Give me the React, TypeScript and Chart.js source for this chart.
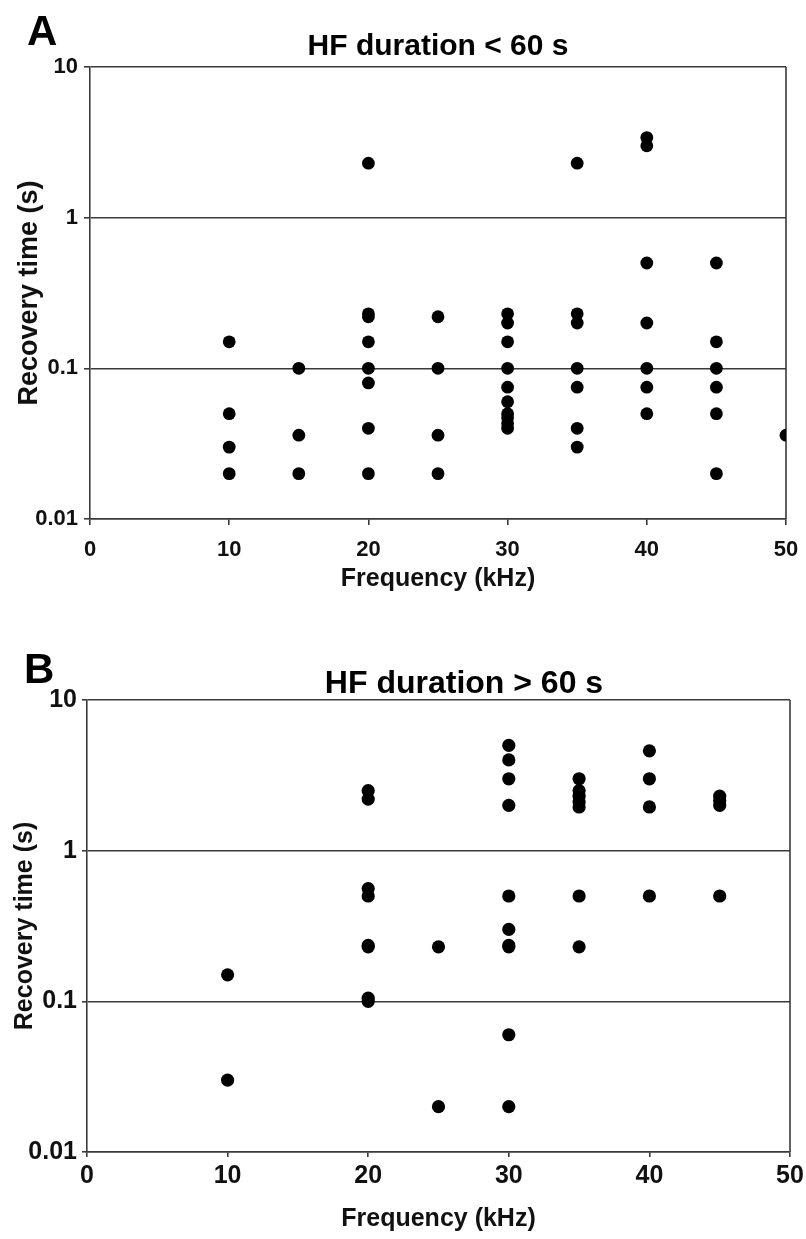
import React, { useEffect, useRef } from "react";
import { Chart, registerables } from "chart.js";

Chart.register(...registerables);

// ---------- data ----------
const xTickValues = [0, 10, 20, 30, 40, 50];
const yTickValues = [0.01, 0.1, 1, 10];

// Panel A: HF duration < 60 s
const shortFreq = [
  10, 10, 10, 10,
  15, 15, 15,
  20, 20, 20, 20, 20, 20, 20, 20,
  25, 25, 25, 25,
  30, 30, 30, 30, 30, 30, 30, 30, 30, 30,
  35, 35, 35, 35, 35, 35, 35,
  40, 40, 40, 40, 40, 40, 40,
  45, 45, 45, 45, 45, 45,
  50,
];
const shortTime = [
  0.15, 0.05, 0.03, 0.02,
  0.1, 0.036, 0.02,
  2.3, 0.23, 0.22, 0.15, 0.1, 0.08, 0.04, 0.02,
  0.22, 0.1, 0.036, 0.02,
  0.23, 0.2, 0.15, 0.1, 0.075, 0.06, 0.05, 0.047, 0.043, 0.04,
  2.3, 0.23, 0.2, 0.1, 0.075, 0.04, 0.03,
  3.4, 3.0, 0.5, 0.2, 0.1, 0.075, 0.05,
  0.5, 0.15, 0.1, 0.075, 0.05, 0.02,
  0.036,
];

// Panel B: HF duration > 60 s
const longFreq = [
  10, 10,
  20, 20, 20, 20, 20, 20, 20, 20,
  25, 25,
  30, 30, 30, 30, 30, 30, 30, 30, 30, 30,
  35, 35, 35, 35, 35, 35, 35,
  40, 40, 40, 40,
  45, 45, 45, 45,
];
const longTime = [
  0.15, 0.03,
  2.5, 2.2, 0.56, 0.5, 0.235, 0.23, 0.105, 0.1,
  0.23, 0.02,
  5, 4, 3, 2, 0.5, 0.3, 0.235, 0.23, 0.06, 0.02,
  3, 2.5, 2.3, 2.1, 1.95, 0.5, 0.23,
  4.6, 3, 1.95, 0.5,
  2.3, 2.15, 2.0, 0.5,
];

const xAxisTitle = "Frequency (kHz)";
const yAxisTitle = "Recovery time (s)";
const titleA = "HF duration < 60 s";
const titleB = "HF duration > 60 s";

// ---------- styling / layout ----------
const W = 806;
const LINE = "#3a3a3a";
const SANS = '"Liberation Sans", Arial, Helvetica, sans-serif';
const NARROW = '"Liberation Sans Narrow", "Arial Narrow", "Liberation Sans", sans-serif';

type PanelCfg = {
  freq: number[];
  time: number[];
  letter: string;
  title: string;
  height: number;
  area: { left: number; right: number; top: number; bottom: number };
  letterX: number;
  letterBase: number;
  titleX: number;
  titleBase: number;
  titleSize: number;
  tickSize: number;
  xTickPad: number;
  yTickPad: number;
  tickLen: number;
  xTitleSize: number;
  xTitlePad: number;
  yTitleSize: number;
  yTitlePad: number;
  dotR: number;
};

const panelA: PanelCfg = {
  freq: shortFreq,
  time: shortTime,
  letter: "A",
  title: titleA,
  height: 610,
  area: { left: 90, right: 786, top: 67, bottom: 519 },
  letterX: 27,
  letterBase: 45,
  titleX: 438,
  titleBase: 55,
  titleSize: 30,
  tickSize: 22,
  xTickPad: 12,
  yTickPad: 6,
  tickLen: 6,
  xTitleSize: 25,
  xTitlePad: 16,
  yTitleSize: 27,
  yTitlePad: 13,
  dotR: 6.4,
};

const panelB: PanelCfg = {
  freq: longFreq,
  time: longTime,
  letter: "B",
  title: titleB,
  height: 629,
  area: { left: 87, right: 790, top: 90, bottom: 542 },
  letterX: 24,
  letterBase: 73,
  titleX: 464,
  titleBase: 83,
  titleSize: 32,
  tickSize: 25,
  xTickPad: 4,
  yTickPad: 5,
  tickLen: 5,
  xTitleSize: 25,
  xTitlePad: 5,
  yTitleSize: 25,
  yTitlePad: 10,
  dotR: 6.6,
};

function makeTextPlugin(c: PanelCfg) {
  return {
    id: "panelDecor" + c.letter,
    beforeDatasetsDraw(chart: any) {
      const { ctx, chartArea } = chart;
      ctx.save();
      ctx.strokeStyle = LINE;
      ctx.lineWidth = 1.6;
      ctx.beginPath();
      ctx.moveTo(chartArea.right, chartArea.top);
      ctx.lineTo(chartArea.right, chartArea.bottom);
      ctx.stroke();
      ctx.restore();
    },
    afterDraw(chart: any) {
      const ctx = chart.ctx;
      ctx.save();
      ctx.fillStyle = "#000";
      ctx.textBaseline = "alphabetic";
      ctx.textAlign = "left";
      ctx.font = `bold 42px ${SANS}`;
      ctx.fillText(c.letter, c.letterX, c.letterBase);
      ctx.textAlign = "center";
      ctx.font = `bold ${c.titleSize}px ${SANS}`;
      ctx.fillText(c.title, c.titleX, c.titleBase);
      ctx.restore();
    },
  };
}

function Panel({ cfg }: { cfg: PanelCfg }) {
  const ref = useRef<HTMLCanvasElement>(null);
  useEffect(() => {
    const c = cfg;
    const chart = new Chart(ref.current as HTMLCanvasElement, {
      type: "scatter",
      data: {
        datasets: [
          {
            data: c.freq.map((x, i) => ({ x, y: c.time[i] })),
            backgroundColor: "#000",
            borderColor: "#000",
            borderWidth: 0,
            pointRadius: c.dotR,
            pointHoverRadius: c.dotR,
            pointStyle: "circle",
          },
        ],
      },
      options: {
        animation: false,
        responsive: false,
        maintainAspectRatio: false,
        devicePixelRatio: 1,
        events: [],
        layout: {
          padding: { left: 0, top: c.area.top, right: W - c.area.right, bottom: 0 },
        },
        plugins: {
          legend: { display: false },
          tooltip: { enabled: false },
          title: { display: false },
        },
        scales: {
          x: {
            type: "linear",
            position: "bottom",
            min: 0,
            max: 50,
            afterBuildTicks: (s: any) => {
              s.ticks = xTickValues.map((v) => ({ value: v }));
            },
            afterFit: (s: any) => {
              s.height = c.height - c.area.bottom;
              s.paddingLeft = 0;
              s.paddingRight = 0;
            },
            grid: {
              drawOnChartArea: false,
              drawTicks: true,
              tickLength: c.tickLen,
              color: LINE,
              lineWidth: 1.6,
            },
            border: { display: true, color: LINE, width: 1.6 },
            ticks: {
              autoSkip: false,
              maxRotation: 0,
              padding: c.xTickPad,
              color: "#111",
              font: { family: NARROW, size: c.tickSize, weight: "bold" },
              callback: (v: any) => String(v),
            },
            title: {
              display: true,
              text: xAxisTitle,
              color: "#111",
              font: { family: SANS, size: c.xTitleSize, weight: "bold" },
              padding: { top: 0, bottom: c.xTitlePad },
            },
          },
          y: {
            type: "logarithmic",
            position: "left",
            min: 0.01,
            max: 10,
            afterBuildTicks: (s: any) => {
              s.ticks = yTickValues.map((v) => ({ value: v, major: true }));
            },
            afterFit: (s: any) => {
              s.width = c.area.left;
              s.paddingTop = 0;
              s.paddingBottom = 0;
            },
            grid: {
              drawOnChartArea: true,
              drawTicks: true,
              tickLength: c.tickLen,
              color: LINE,
              lineWidth: 1.6,
            },
            border: { display: true, color: LINE, width: 1.6 },
            ticks: {
              padding: c.yTickPad,
              color: "#111",
              font: { family: NARROW, size: c.tickSize, weight: "bold" },
              callback: (v: any) => String(v),
            },
            title: {
              display: true,
              text: yAxisTitle,
              color: "#111",
              font: { family: SANS, size: c.yTitleSize, weight: "bold" },
              padding: { top: c.yTitlePad, bottom: 0 },
            },
          },
        },
      } as any,
      plugins: [makeTextPlugin(c)],
    });
    return () => chart.destroy();
  }, [cfg]);
  return (
    <canvas
      ref={ref}
      width={W}
      height={cfg.height}
      style={{ display: "block", width: W, height: cfg.height }}
    />
  );
}

export default function App() {
  return (
    <div
      style={{
        position: "absolute",
        left: 0,
        top: 0,
        width: W,
        height: 1239,
        background: "#fff",
      }}
    >
      <Panel cfg={panelA} />
      <Panel cfg={panelB} />
    </div>
  );
}
